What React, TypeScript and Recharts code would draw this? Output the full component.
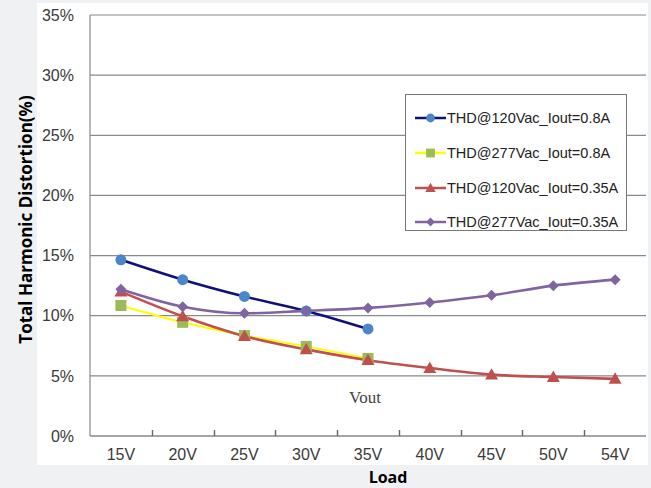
import React from 'react';
import {
  LineChart,
  Line,
  XAxis,
  YAxis,
  CartesianGrid,
  Legend,
  ReferenceDot,
} from 'recharts';

const loads = ['15V', '20V', '25V', '30V', '35V', '40V', '45V', '50V', '54V'];
const thd120_08 = [14.65, 13.0, 11.6, 10.4, 8.9];
const thd277_08 = [10.85, 9.45, 8.35, 7.45, 6.45];
const thd120_035 = [12.0, 9.95, 8.3, 7.2, 6.3, 5.65, 5.1, 4.9, 4.75];
const thd277_035 = [12.2, 10.75, 10.2, 10.4, 10.65, 11.1, 11.7, 12.5, 13.0];
const yTicks = [0, 5, 10, 15, 20, 25, 30, 35];

const data = loads.map((load, i) => ({
  load,
  a: thd120_08[i],
  b: thd277_08[i],
  c: thd120_035[i],
  d: thd277_035[i],
}));

const W = 651;
const H = 488;
const PLOT_LEFT = 90;
const PLOT_RIGHT = 646;
const STEP = (PLOT_RIGHT - PLOT_LEFT) / loads.length;

const series = [
  { key: 'a', name: 'THD@120Vac_Iout=0.8A', line: '#10107a', mark: '#4a86c8', shape: 'circle' },
  { key: 'b', name: 'THD@277Vac_Iout=0.8A', line: '#ffff00', mark: '#9bbb59', shape: 'square' },
  { key: 'c', name: 'THD@120Vac_Iout=0.35A', line: '#c0504d', mark: '#c0504d', shape: 'triangle' },
  { key: 'd', name: 'THD@277Vac_Iout=0.35A', line: '#8064a2', mark: '#8064a2', shape: 'diamond' },
];

function Marker({ cx, cy, shape, color, size = 1 }: any) {
  if (cx == null || cy == null) return null;
  if (shape === 'circle') return <circle cx={cx} cy={cy} r={5.5 * size} fill={color} />;
  if (shape === 'square') {
    const s = 5.5 * size;
    return <rect x={cx - s} y={cy - s} width={s * 2} height={s * 2} fill={color} />;
  }
  if (shape === 'triangle') {
    const s = 6.5 * size;
    return <polygon points={`${cx},${cy - s} ${cx + s},${cy + s * 0.75} ${cx - s},${cy + s * 0.75}`} fill={color} />;
  }
  const s = 5.5 * size;
  return <polygon points={`${cx},${cy - s} ${cx + s},${cy} ${cx},${cy + s} ${cx - s},${cy}`} fill={color} />;
}

// category label plus the small inner tick mark between categories
function XTick(props: any) {
  const { x, y, payload } = props;
  const axisY = Number(y) - 12;
  const i = loads.indexOf(String(payload.value));
  const tx = Math.round(Number(x) + STEP / 2) + 0.5;
  return (
    <g>
      {i < loads.length - 1 && (
        <path d={`M${tx},${axisY}V${axisY - 6}`} stroke="#666" strokeWidth={1.4} fill="none" />
      )}
      <text x={x} y={y} dy="0.75em" textAnchor="middle" fill="#3a3a3a" fontSize={16} fontFamily="Liberation Sans, Arial">
        {payload.value}
      </text>
    </g>
  );
}

function LegendBox() {
  return (
    <div
      style={{
        width: 222,
        height: 137,
        border: '1px solid #777',
        background: '#fff',
        boxSizing: 'border-box',
        paddingTop: 6,
      }}
    >
      {series.map((s) => (
        <div key={s.key} style={{ display: 'flex', alignItems: 'center', height: 34.7, paddingLeft: 9 }}>
          <svg width={31} height={16}>
            <line x1={0} x2={31} y1={8} y2={8} stroke={s.line} strokeWidth={2.5} />
            <Marker cx={15.5} cy={8} shape={s.shape} color={s.mark} size={0.8} />
          </svg>
          <span style={{ fontFamily: 'Liberation Sans, Arial', fontSize: 14.5, color: '#222', marginLeft: 1 }}>
            {s.name}
          </span>
        </div>
      ))}
    </div>
  );
}

export default function App() {
  return (
    <div style={{ position: 'absolute', left: 0, top: 0, width: W, height: H, background: '#f0f1f3' }}>
      <div style={{ position: 'absolute', left: 37, top: 3, width: 611, height: 462, background: '#fff' }} />
      <div style={{ position: 'absolute', left: 0, top: 0 }}>
        <LineChart width={W} height={H} data={data} margin={{ top: 15, right: 5, bottom: 7, left: 10 }}>
          <CartesianGrid vertical={false} stroke="#8a8a8a" strokeWidth={1.2} />
          <XAxis
            dataKey="load"
            height={45}
            padding={{ left: STEP / 2, right: STEP / 2 }}
            tickSize={0}
            tickMargin={12}
            tick={(p: any) => <XTick {...p} />}
            axisLine={{ stroke: '#888', strokeWidth: 1.2 }}
            label={{
              value: 'Load',
              position: 'insideBottom',
              offset: -2,
              dx: 20,
              style: { fontFamily: 'Open Sans', fontWeight: 700, fontSize: 16, fill: '#000' },
            }}
          />
          <YAxis
            domain={[0, 35]}
            ticks={yTicks}
            width={80}
            tickSize={0}
            tickMargin={16}
            tickFormatter={(v: number) => `${v}%`}
            tick={{ fill: '#3a3a3a', fontSize: 16, fontFamily: 'Liberation Sans, Arial' }}
            axisLine={{ stroke: '#888', strokeWidth: 1.2 }}
            label={{
              value: 'Total Harmonic Distortion(%)',
              angle: -90,
              position: 'insideLeft',
              offset: 16,
              dy: -6,
              style: { fontFamily: 'Open Sans', fontWeight: 700, fontSize: 17, fill: '#000', textAnchor: 'middle' },
            }}
          />
          <YAxis yAxisId="right" orientation="right" width={0} tick={false} axisLine={{ stroke: '#999' }} />
          {series.map((s) => (
            <Line
              key={s.key}
              dataKey={s.key}
              name={s.name}
              type="monotone"
              stroke={s.line}
              strokeWidth={s.key === 'b' ? 2 : 2.6}
              dot={(p: any) => <Marker key={`${s.key}-${p.index}`} cx={p.cx} cy={p.cy} shape={s.shape} color={s.mark} />}
              activeDot={false}
              isAnimationActive={false}
            />
          ))}
          <ReferenceDot
            x="35V"
            y={3}
            r={0}
            label={{ value: 'Vout', position: 'center', dx: -3, dy: -3, fill: '#444', fontSize: 17, fontFamily: 'Liberation Serif, Times New Roman, serif' }}
          />
          <Legend
            layout="vertical"
            align="center"
            verticalAlign="middle"
            content={() => <LegendBox />}
            wrapperStyle={{ position: 'absolute', left: 405, top: 94, width: 222 }}
          />
        </LineChart>
      </div>
    </div>
  );
}
